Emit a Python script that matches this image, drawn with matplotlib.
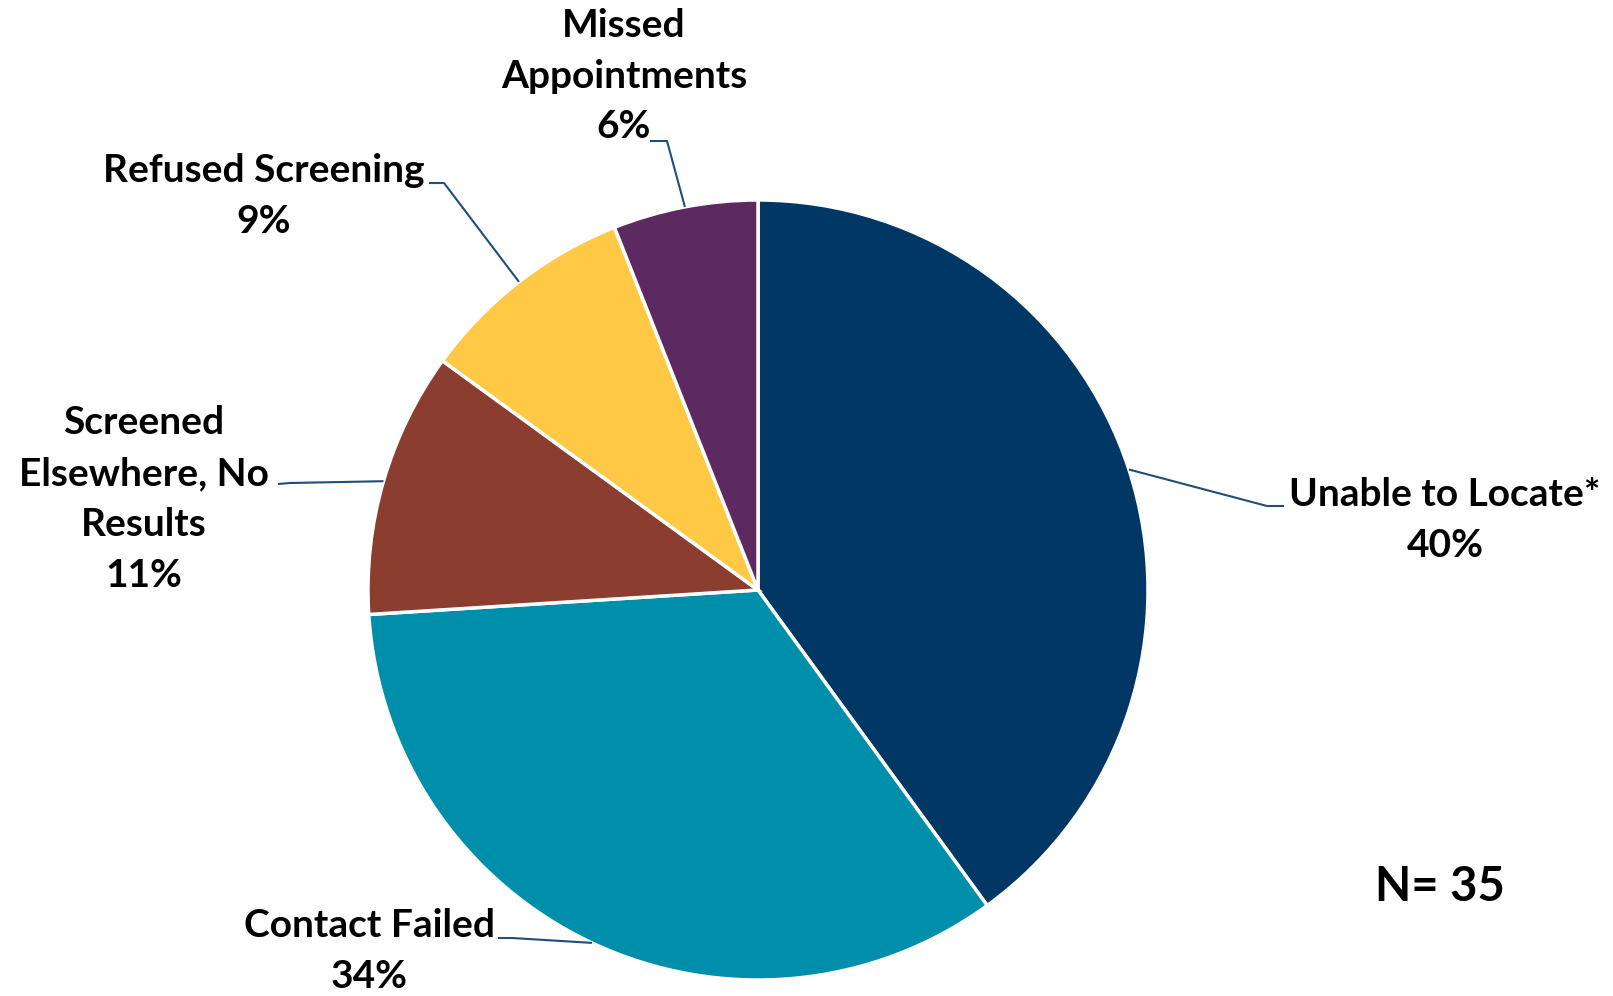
import matplotlib
matplotlib.use("Agg")
import matplotlib.pyplot as plt
import numpy as np

categories = ["Unable to Locate*", "Contact Failed", "Screened\nElsewhere, No\nResults",
              "Refused Screening", "Missed\nAppointments"]
percents = [40, 34, 11, 9, 6]
colors = ["#003764", "#008FAB", "#8B3E2F", "#FFC845", "#5C2961"]
n_label = "N= 35"

W, H = 1613, 996
fig = plt.figure(figsize=(W / 100, H / 100), dpi=100)
ax = fig.add_axes([0, 0, 1, 1])

cx, cy, R = 758, H - 590, 390
wedges, _ = ax.pie(percents, colors=colors, startangle=90, counterclock=False,
                   center=(cx, cy), radius=R, frame=True,
                   wedgeprops=dict(edgecolor="white", linewidth=2.5))
ax.set_xlim(0, W)
ax.set_ylim(0, H)
ax.set_aspect("equal")
ax.axis("off")

FONT = ["Lato", "DejaVu Sans"]
fs = 28
line_col = "#1F4E79"

# label layout: (text center x, text center y (px from top), elbow x, elbow y, end x, end y)
layout = [
    (1445, 520, 1267, 506, 1284, 506),
    (369, 951, 512, 938, 498, 938),
    (144, 499, 290, 483, 278, 484),
    (264, 196, 444, 183, 429, 183),
    (624, 76, 667, 141, 650, 141),
]

for w, cat, pct, (tx, ty, ex, ey, lx, ly) in zip(wedges, categories, percents, layout):
    mid = np.deg2rad((w.theta1 + w.theta2) / 2)
    px = cx + R * np.cos(mid)
    py = cy + R * np.sin(mid)
    ax.plot([px, ex, lx], [py, H - ey, H - ly], color=line_col, lw=1.5,
            solid_capstyle="butt")
    ax.text(tx, H - ty, f"{cat}\n{pct}%", ha="center", va="center", fontsize=fs,
            fontweight="bold", family=FONT, linespacing=1.55, color="black")

ax.text(1440, H - 887, n_label, ha="center", va="center", fontsize=34,
        fontweight="bold", family=FONT, color="black")

fig.savefig("out.png", dpi=100, facecolor="white")
